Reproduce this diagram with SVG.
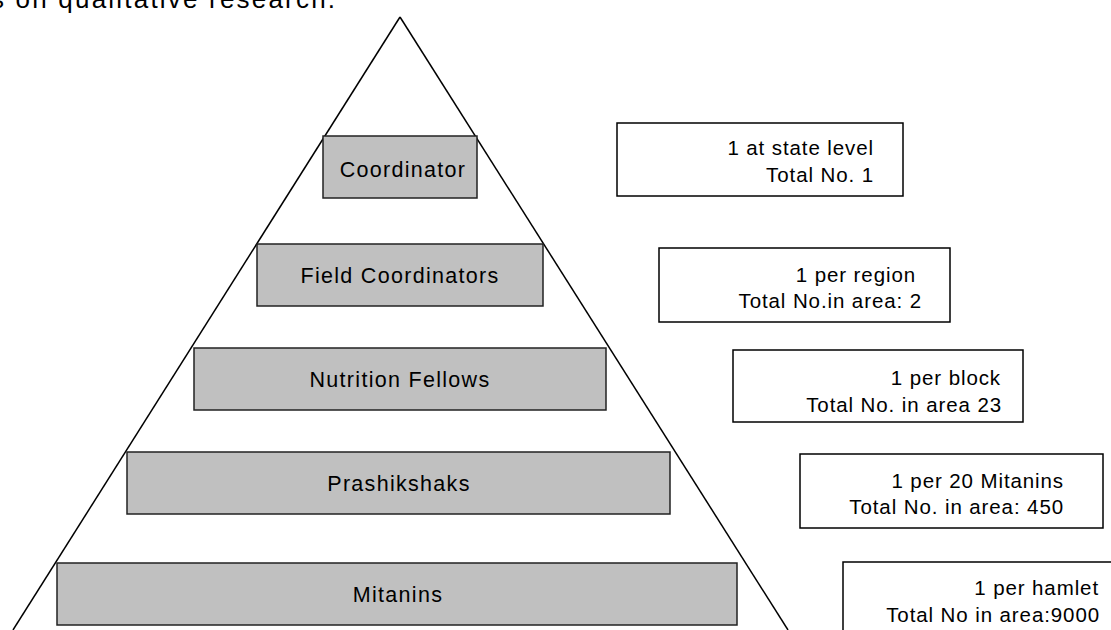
<svg xmlns="http://www.w3.org/2000/svg" width="1111" height="630" viewBox="0 0 1111 630">
<style>
.lvl rect{fill:#c0c0c0;stroke:#222;stroke-width:1.5}
.lvl text{font-family:"Liberation Sans",Arial,sans-serif;font-size:21.5px;letter-spacing:1.3px;fill:#000;text-anchor:middle}
.note rect{fill:#fff;stroke:#000;stroke-width:1.5}
.note text{font-family:"Liberation Sans",Arial,sans-serif;font-size:20.5px;letter-spacing:0.9px;fill:#000;text-anchor:end}
.edge{stroke:#000;stroke-width:1.5;fill:none}
</style>
<rect width="1111" height="630" fill="#fff"/>
<text x="-9" y="8" font-family="Liberation Sans, Arial, sans-serif" font-size="26" letter-spacing="2.2" fill="#000">s on qualitative research.</text>
<g id="connectors">
<line class="edge" x1="400" y1="17" x2="13" y2="630"/>
<line class="edge" x1="400" y1="17" x2="788" y2="630"/>
</g>
<g id="coordinator" class="lvl"><rect x="323" y="136" width="154" height="62"/><text x="403" y="177">Coordinator</text></g>
<g id="field-coordinators" class="lvl"><rect x="257" y="244" width="286" height="62"/><text x="400" y="283">Field Coordinators</text></g>
<g id="nutrition-fellows" class="lvl"><rect x="194" y="348" width="412" height="62"/><text x="400" y="387">Nutrition Fellows</text></g>
<g id="prashikshaks" class="lvl"><rect x="127" y="452" width="543" height="62"/><text x="399" y="491">Prashikshaks</text></g>
<g id="mitanins" class="lvl"><rect x="57" y="563" width="680" height="62"/><text x="398" y="602">Mitanins</text></g>
<g id="note-coordinator" class="note"><rect x="617" y="123" width="286" height="73"/><text x="874" y="155">1 at state level</text><text x="874" y="182">Total No. 1</text></g>
<g id="note-field" class="note"><rect x="659" y="248" width="291" height="74"/><text x="916" y="282">1 per region</text><text x="922" y="308">Total No.in area: 2</text></g>
<g id="note-nutrition" class="note"><rect x="733" y="350" width="290" height="72"/><text x="1001" y="385">1 per block</text><text x="1002" y="412">Total No. in area 23</text></g>
<g id="note-prashikshaks" class="note"><rect x="800" y="454" width="303" height="74"/><text x="1064" y="488">1 per 20 Mitanins</text><text x="1064" y="514">Total No. in area: 450</text></g>
<g id="note-mitanins" class="note"><rect x="843" y="562" width="280" height="80"/><text x="1099" y="595">1 per hamlet</text><text x="1100" y="622">Total No in area:9000</text></g>
</svg>
